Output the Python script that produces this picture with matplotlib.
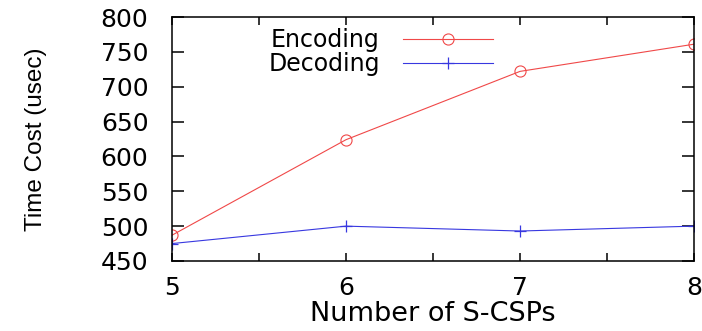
import numpy as np
import matplotlib.pyplot as plt
from matplotlib.ticker import MultipleLocator

csps = [5, 6, 7, 8]
encoding = [487, 624, 722, 761]
decoding = [475, 500, 493, 500]

WIDE = ['DejaVu Sans']

fig = plt.figure(figsize=(7.02, 3.31), dpi=100)
ax = fig.add_axes([0.245, 0.2115, 0.7436, 0.7371])

ax.plot(csps, encoding, color='#f04848', lw=0.8, marker='o', ms=8,
        mfc='none', mec='#f04848', mew=0.8, label='Encoding')
ax.plot(csps, decoding, color='#3838e0', lw=0.8, marker='+', ms=9,
        mew=0.9, label='Decoding')

ax.set_xlim(5, 8)
ax.set_ylim(450, 800)
ax.xaxis.set_major_locator(MultipleLocator(1))
ax.xaxis.set_minor_locator(MultipleLocator(0.5))
ax.yaxis.set_major_locator(MultipleLocator(50))
ax.tick_params(which='both', direction='in', top=True, right=True, width=1.1)
ax.tick_params(axis='y', which='major', length=8.5, pad=17)
ax.tick_params(axis='x', which='both', length=5.5, pad=11)
ax.tick_params(labelsize=18)
for s in ax.spines.values():
    s.set_linewidth(1.1)

for lbl in ax.get_xticklabels() + ax.get_yticklabels():
    lbl.set_family(WIDE)

ax.set_xlabel('Number of S-CSPs', fontsize=19.5, family=WIDE)
ax.xaxis.set_label_coords(0.5, -0.165)
ax.set_ylabel('Time Cost (usec)', fontsize=17.5,
              family=['Liberation Sans', 'DejaVu Sans'])
ax.yaxis.set_label_coords(-0.24, 0.5)

leg = ax.legend(loc='upper right', bbox_to_anchor=(0.615, 0.955), frameon=False,
                markerfirst=False, handlelength=3.8, borderpad=0,
                borderaxespad=0, labelspacing=0.0, handletextpad=1.0,
                prop={'family': WIDE, 'size': 17})
for t in leg.get_texts():
    t.set_ha('right')

fig.savefig('out.png', dpi=100)
